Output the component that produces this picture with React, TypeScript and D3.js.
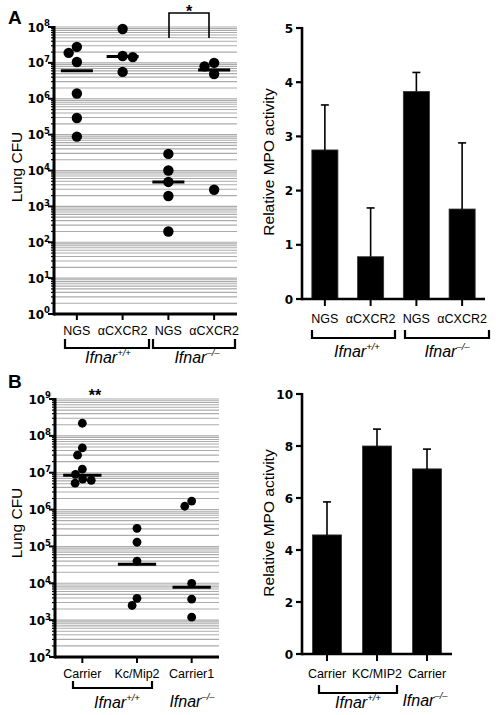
import React from "react";
import * as d3 from "d3";

// ---------- Data ----------
// Panel A, scatter (Lung CFU)
const aCats = ["NGS", "αCXCR2", "NGS", "αCXCR2"];
const aNgsWT = [2.8e7, 1.9e7, 1.06e7, 1.4e6, 2.9e5, 8.8e4];
const aCxcr2WT = [8.8e7, 1.55e7, 1.45e7, 5.6e6];
const aNgsKO = [2.9e4, 1e4, 4.8e3, 1.95e3, 200];
const aCxcr2KO = [1e7, 8e6, 4.9e6, 2.9e3];
const aMedians = [6e6, 1.5e7, 4.8e3, 6.3e6];
const aExps = [0, 1, 2, 3, 4, 5, 6, 7, 8];

// Panel A, bars (Relative MPO activity)
const aBarCats = ["NGS", "αCXCR2", "NGS", "αCXCR2"];
const aBarMeans = [2.75, 0.78, 3.83, 1.66];
const aBarErr = [0.83, 0.9, 0.35, 1.22];
const aBarTicks = [0, 1, 2, 3, 4, 5];

// Panel B, scatter
const bCats = ["Carrier", "Kc/Mip2", "Carrier1"];
const bCarrier = [2.2e8, 4.7e7, 3e7, 1.25e7, 9e6, 6.7e6, 6.2e6, 5.2e6];
const bKcMip2 = [3.1e5, 1.3e5, 4e4, 3.9e3, 2.5e3];
const bCarrier1 = [1.7e6, 1.23e6, 1e4, 3.7e3, 1.2e3];
const bMedians = [8.5e6, 3.3e4, 7.8e3];
const bExps = [2, 3, 4, 5, 6, 7, 8, 9];

// Panel B, bars
const bBarCats = ["Carrier", "KC/MIP2", "Carrier"];
const bBarMeans = [4.58, 8.0, 7.12];
const bBarErr = [1.27, 0.65, 0.76];
const bBarTicks = [0, 2, 4, 6, 8, 10];

const SANS = "'Liberation Sans', Arial, sans-serif";
const BOLD = "'DejaVu Sans', Verdana, sans-serif";

function dodge(ys: number[], cx: number, r: number): number[] {
  const placed: { x: number; y: number }[] = [];
  const order = ys.map((y, i) => i).sort((a, b) => ys[a] - ys[b]);
  const xs = new Array(ys.length).fill(cx);
  const D = 2 * r * 0.98;
  for (const i of order) {
    const y = ys[i];
    const cands = [cx];
    const ivs: [number, number][] = [];
    for (const p of placed) {
      const dy = Math.abs(p.y - y);
      if (dy < D) {
        const w = Math.sqrt(D * D - dy * dy);
        ivs.push([p.x - w, p.x + w]);
        cands.push(p.x - w, p.x + w);
      }
    }
    const ok = cands.filter((c) => ivs.every(([a, b]) => c <= a + 1e-6 || c >= b - 1e-6));
    ok.sort((a, b) => Math.abs(a - cx) - Math.abs(b - cx) || a - b);
    const x = ok[0];
    xs[i] = x;
    placed.push({ x, y });
  }
  return xs;
}

function Sup({ x, y, base, sup, anchor, size, supSize, family, weight, italic }: any) {
  return (
    <text x={x} y={y} textAnchor={anchor} fontFamily={family} fontWeight={weight} fontStyle={italic ? "italic" : "normal"} fontSize={size}>
      <tspan>{base}</tspan>
      <tspan dy={-size * 0.42} fontSize={supSize}>{sup}</tspan>
    </text>
  );
}

function LogScatter({ cats, groups, medians, exps, x0, x1, yTop, yBot, r, medFrac, catY }: any) {
  const emin = d3.min(exps) as number;
  const emax = d3.max(exps) as number;
  const y = d3.scaleLog().domain([10 ** emin, 10 ** emax]).range([yBot, yTop]);
  const x = d3.scaleBand<number>().domain(cats.map((_: any, i: number) => i)).range([x0, x1]);
  const step = x.step();
  const grid: number[] = [];
  const minor: number[] = [];
  for (let k = emin; k < emax; k++) {
    for (let m = 1; m <= 9; m++) {
      grid.push(m * 10 ** k);
      if (m > 1) minor.push(m * 10 ** k);
    }
  }
  grid.push(10 ** emax);
  return (
    <g>
      {grid.map((v, i) => (
        <line key={"g" + i} x1={x0} x2={x1} y1={y(v)} y2={y(v)} stroke="#ababab" strokeWidth={1.1} />
      ))}
      {minor.map((v, i) => (
        <line key={"m" + i} x1={x0 - 3} x2={x0} y1={y(v)} y2={y(v)} stroke="#000" strokeWidth={1.2} />
      ))}
      {exps.map((e: number) => (
        <g key={"e" + e}>
          <line x1={x0 - 6} x2={x0} y1={y(10 ** e)} y2={y(10 ** e)} stroke="#000" strokeWidth={2} />
          <Sup x={x0 - 4} y={y(10 ** e) + 4.5} base="10" sup={String(e)} anchor="end" size={12} supSize={8.5} family={BOLD} weight="bold" />
        </g>
      ))}
      <line x1={x0} x2={x0} y1={yTop - 1} y2={yBot + 1.5} stroke="#000" strokeWidth={3} />
      <line x1={x0} x2={x1} y1={yBot} y2={yBot} stroke="#000" strokeWidth={3} />
      {cats.map((c: string, i: number) => {
        const cx = (x(i) as number) + step / 2;
        const vals: number[] = groups[i];
        const ys = vals.map((v) => y(v));
        const xs = dodge(ys, cx, r);
        const mw = step * medFrac;
        return (
          <g key={"c" + i}>
            <line x1={cx} x2={cx} y1={yBot} y2={yBot + 6} stroke="#000" strokeWidth={2} />
            <text x={cx} y={catY} textAnchor="middle" fontFamily={SANS} fontSize={12.5}>{c}</text>
            {vals.map((v, j) => (
              <circle key={j} cx={xs[j]} cy={ys[j]} r={r} fill="#000" />
            ))}
            <line x1={cx - mw / 2} x2={cx + mw / 2} y1={y(medians[i])} y2={y(medians[i])} stroke="#000" strokeWidth={3} />
          </g>
        );
      })}
    </g>
  );
}

function BarPanel({ cats, means, errs, ticks, x0, x1, yTop, yBot, barFrac, catY }: any) {
  const y = d3.scaleLinear().domain([0, d3.max(ticks) as number]).range([yBot, yTop]);
  const x = d3.scaleBand<number>().domain(cats.map((_: any, i: number) => i)).range([x0, x1]);
  const step = x.step();
  const bw = step * barFrac;
  return (
    <g>
      {cats.map((c: string, i: number) => {
        const cx = (x(i) as number) + step / 2;
        const top = y(means[i]);
        const et = y(means[i] + errs[i]);
        return (
          <g key={i}>
            <rect x={cx - bw / 2} y={top} width={bw} height={yBot - top} fill="#000" stroke="#333" strokeWidth={0.8} />
            <line x1={cx} x2={cx} y1={top} y2={et} stroke="#000" strokeWidth={1.6} />
            <line x1={cx - 4} x2={cx + 4} y1={et} y2={et} stroke="#000" strokeWidth={1.6} />
            <line x1={cx} x2={cx} y1={yBot} y2={yBot + 7} stroke="#000" strokeWidth={2} />
            <text x={cx} y={catY} textAnchor="middle" fontFamily={SANS} fontSize={12.5}>{c}</text>
          </g>
        );
      })}
      {ticks.map((t: number) => (
        <g key={"t" + t}>
          <line x1={x0 - 6} x2={x0} y1={y(t)} y2={y(t)} stroke="#000" strokeWidth={2.2} />
          <text x={x0 - 9} y={y(t) + 4.5} textAnchor="end" fontFamily={BOLD} fontWeight="bold" fontSize={12}>{t}</text>
        </g>
      ))}
      <line x1={x0} x2={x0} y1={yTop - 1} y2={yBot + 1.2} stroke="#000" strokeWidth={2.6} />
      <line x1={x0} x2={x1} y1={yBot} y2={yBot} stroke="#000" strokeWidth={2.6} />
    </g>
  );
}

function Bracket({ x1, x2, y, h }: any) {
  return (
    <path d={`M${x1},${y - h}V${y}H${x2}V${y - h}`} fill="none" stroke="#000" strokeWidth={2.2} />
  );
}

function GroupLabel({ x, y, sup }: any) {
  return <Sup x={x} y={y} base="Ifnar" sup={sup} anchor="middle" size={16} supSize={9.5} family={SANS} weight="normal" italic />;
}

function YLabel({ x, y, text }: any) {
  return (
    <text transform={`translate(${x},${y}) rotate(-90)`} textAnchor="middle" fontFamily={SANS} fontSize={15.5}>{text}</text>
  );
}

export default function App() {
  const WT = "+/+";
  const KO = "–/–";
  return (
    <svg width={496} height={715} style={{ position: "absolute", left: 0, top: 0, background: "#fff" }}>
      <text x={8} y={24} fontFamily={SANS} fontWeight="bold" fontSize={19}>A</text>
      <text x={8} y={388} fontFamily={SANS} fontWeight="bold" fontSize={19}>B</text>

      {/* Panel A scatter */}
      <LogScatter cats={aCats} groups={[aNgsWT, aCxcr2WT, aNgsKO, aCxcr2KO]} medians={aMedians} exps={aExps}
        x0={54} x1={237} yTop={27} yBot={314} r={5.2} medFrac={0.7} catY={335} />
      <YLabel x={22} y={167} text="Lung CFU" />
      <path d="M169,38V13H209V38" fill="none" stroke="#000" strokeWidth={1.6} />
      <text x={189} y={17} textAnchor="middle" fontFamily={SANS} fontWeight="bold" fontSize={16}>*</text>
      <Bracket x1={65} x2={149} y={348} h={9} />
      <Bracket x1={153} x2={235} y={348} h={9} />
      <GroupLabel x={108} y={363} sup={WT} />
      <GroupLabel x={197} y={363} sup={KO} />

      {/* Panel A bars */}
      <BarPanel cats={aBarCats} means={aBarMeans} errs={aBarErr} ticks={aBarTicks}
        x0={302} x1={485} yTop={28} yBot={299} barFrac={0.57} catY={323} />
      <YLabel x={274} y={162} text="Relative MPO activity" />
      <Bracket x1={312} x2={395} y={338} h={8} />
      <Bracket x1={405} x2={489} y={338} h={8} />
      <GroupLabel x={357} y={357} sup={WT} />
      <GroupLabel x={447} y={357} sup={KO} />

      {/* Panel B scatter */}
      <LogScatter cats={bCats} groups={[bCarrier, bKcMip2, bCarrier1]} medians={bMedians} exps={bExps}
        x0={55} x1={219} yTop={399} yBot={657} r={4.4} medFrac={0.7} catY={678} />
      <YLabel x={22} y={523} text="Lung CFU" />
      <text x={95} y={401} textAnchor="middle" fontFamily={SANS} fontWeight="bold" fontSize={16}>**</text>
      <Bracket x1={73} x2={152} y={688} h={7} />
      <GroupLabel x={117} y={708} sup={WT} />
      <GroupLabel x={192} y={707} sup={KO} />

      {/* Panel B bars */}
      <BarPanel cats={bBarCats} means={bBarMeans} errs={bBarErr} ticks={bBarTicks}
        x0={302} x1={452} yTop={394} yBot={654} barFrac={0.58} catY={678} />
      <YLabel x={274} y={523} text="Relative MPO activity" />
      <Bracket x1={319} x2={397} y={693} h={8} />
      <GroupLabel x={358} y={708} sup={WT} />
      <GroupLabel x={425} y={706} sup={KO} />
    </svg>
  );
}
